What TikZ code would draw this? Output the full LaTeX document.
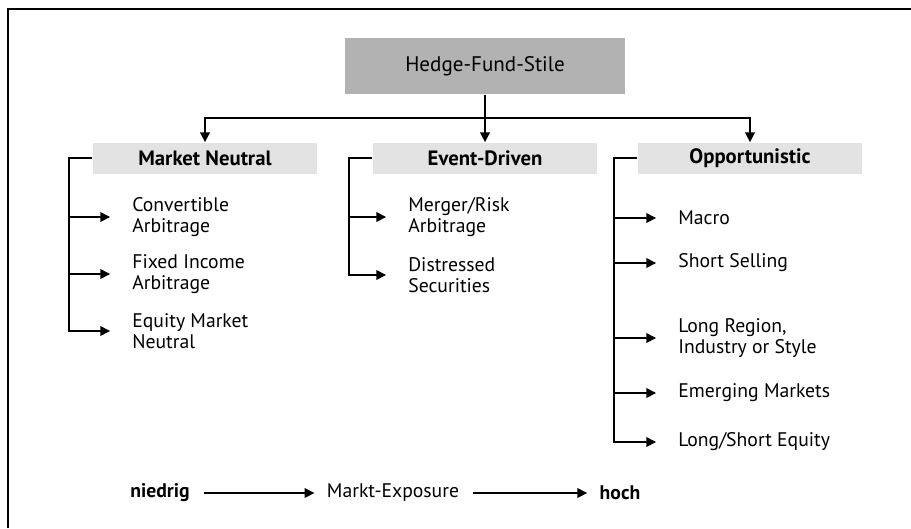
\documentclass[tikz,border=0pt]{standalone}
\usepackage{fontspec}
\setmainfont{PT Sans}
\usetikzlibrary{arrows.meta,positioning}

\begin{document}
\begin{tikzpicture}[
    x=0.02cm, y=-0.02cm,
    font=\fontsize{11.2}{11.8}\selectfont,
    root/.style={fill=gray!60, minimum width=5.6cm, minimum height=1.14cm, font=\fontsize{12}{13}\selectfont},
    group/.style={fill=gray!22, minimum width=4.5cm, minimum height=0.62cm, font=\fontsize{11.8}{12.5}\selectfont\bfseries},
    item/.style={anchor=west, align=left, inner sep=0pt},
    arr/.style={-{Triangle[length=5.5pt, width=5.5pt]}, thick},
    iarr/.style={arr, shorten >=12.5pt},
    sarr/.style={arr, shorten <=8pt, shorten >=7pt},
]
\useasboundingbox (0,0) rectangle (911,528);
% Frame
\draw[line width=1.1pt] (8,528) -- (8,9) -- (911,9);
% Root and groups
\node[root] (hfs) at (485,66) {Hedge-Fund-Stile};
\node[group] (mn) at (205,158) {Market Neutral};
\node[group] (ed) at (485,158) {Event-Driven};
\node[group] (opp) at (750,158) {Opportunistic};
% Market Neutral
\node[item] (conv) at (132,217) {Convertible\\Arbitrage};
\node[item] (fixed) at (132,274) {Fixed Income\\Arbitrage};
\node[item] (equity) at (132,331) {Equity Market\\Neutral};
% Event-Driven
\node[item] (merger) at (408,217) {Merger/Risk\\Arbitrage};
\node[item] (distr) at (408,275) {Distressed\\Securities};
% Opportunistic
\node[item] (macro) at (678,218) {Macro};
\node[item] (short) at (678,263) {Short Selling};
\node[item] (region) at (678,338) {Long Region,\\Industry or Style};
\node[item] (emerg) at (678,393) {Emerging Markets};
\node[item] (lseq) at (678,442) {Long/Short Equity};
% Exposure scale
\node[inner sep=0pt, font=\fontsize{11.2}{11.8}\selectfont\bfseries] (low) at (160,493) {niedrig};
\node[inner sep=0pt] (expo) at (393,493) {Markt-Exposure};
\node[inner sep=0pt, font=\fontsize{11.2}{11.8}\selectfont\bfseries] (high) at (620,493) {hoch};
% Root to groups
\draw[arr] (hfs.south) -- (ed.north);
\draw[arr] (hfs.south) -- ++(0,23) -| (mn.north);
\draw[arr] (hfs.south) -- ++(0,23) -| (opp.north);
% Groups to items
\draw[iarr] (mn.west) -- ++(-23,0) |- (conv.west);
\draw[iarr] (mn.west) -- ++(-23,0) |- (fixed.west);
\draw[iarr] (mn.west) -- ++(-23,0) |- (equity.west);
\draw[iarr] (ed.west) -- ++(-23,0) |- (merger.west);
\draw[iarr] (ed.west) -- ++(-23,0) |- (distr.west);
\draw[iarr] (opp.west) -- ++(-23,0) |- (macro.west);
\draw[iarr] (opp.west) -- ++(-23,0) |- (short.west);
\draw[iarr] (opp.west) -- ++(-23,0) |- (region.west);
\draw[iarr] (opp.west) -- ++(-23,0) |- (emerg.west);
\draw[iarr] (opp.west) -- ++(-23,0) |- (lseq.west);
% Scale arrows
\draw[sarr] (low) -- (expo);
\draw[sarr] (expo) -- (high);
\end{tikzpicture}
\end{document}
